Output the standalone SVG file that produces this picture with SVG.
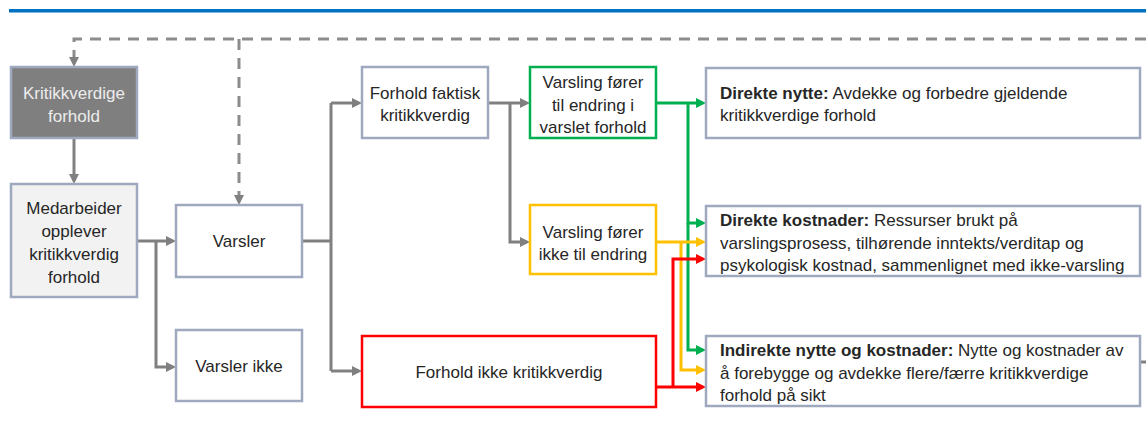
<svg xmlns="http://www.w3.org/2000/svg" width="1146" height="437" viewBox="0 0 1146 437">
  <style>
    text { font-family: "Liberation Sans", Arial, sans-serif; font-size: 17px; fill: #262626; }
    .c { text-anchor: middle; }
    .b { font-weight: bold; }
    .box { fill: #ffffff; stroke: #9ea8bf; stroke-width: 2.5; }
    .dark { fill: #7f7f7f; }
    .light { fill: #f2f2f2; }
    .white { fill: #ededed; }
    .ln { fill: none; stroke-width: 3; stroke-linejoin: miter; }
    .g { stroke: #808080; }
    .gr { stroke: #00b050; }
    .ye { stroke: #ffc000; }
    .re { stroke: #ff0000; }
    .dash { fill: none; stroke: #8c8c8c; stroke-width: 3; stroke-dasharray: 11 8; }
  </style>
  <defs>
    <marker id="aG" markerUnits="userSpaceOnUse" markerWidth="10" markerHeight="10" refX="7" refY="5" orient="auto"><path d="M0,0 L10,5 L0,10 z" fill="#808080"/></marker>
    <marker id="aGr" markerUnits="userSpaceOnUse" markerWidth="10" markerHeight="10" refX="7" refY="5" orient="auto"><path d="M0,0 L10,5 L0,10 z" fill="#00b050"/></marker>
    <marker id="aY" markerUnits="userSpaceOnUse" markerWidth="10" markerHeight="10" refX="7" refY="5" orient="auto"><path d="M0,0 L10,5 L0,10 z" fill="#ffc000"/></marker>
    <marker id="aR" markerUnits="userSpaceOnUse" markerWidth="10" markerHeight="10" refX="7" refY="5" orient="auto"><path d="M0,0 L10,5 L0,10 z" fill="#ff0000"/></marker>
  </defs>

  <rect width="1146" height="437" fill="#ffffff"/>
  <!-- header rule -->
  <rect x="9" y="9" width="1137" height="3.5" fill="#0070c0"/>

  <g id="connectors">
    <!-- feedback loop (dashed) -->
    <path class="dash" d="M1146,39 H74 V64" marker-end="url(#aG)"/>
    <path class="dash" d="M239,39 V202" marker-end="url(#aG)"/>
    <path class="ln g" d="M1139,362 H1146"/>
    <!-- gray flow -->
    <path class="ln g" d="M74,138 V181" marker-end="url(#aG)"/>
    <path class="ln g" d="M137,241 H173" marker-end="url(#aG)"/>
    <path class="ln g" d="M156,241 V367 H173" marker-end="url(#aG)"/>
    <path class="ln g" d="M302,241 H331"/>
    <path class="ln g" d="M331,103 V371"/>
    <path class="ln g" d="M331,103 H359" marker-end="url(#aG)"/>
    <path class="ln g" d="M331,371 H359" marker-end="url(#aG)"/>
    <path class="ln g" d="M488,103 H527" marker-end="url(#aG)"/>
    <path class="ln g" d="M510,103 V242 H527" marker-end="url(#aG)"/>
    <!-- green -->
    <path class="ln gr" d="M656,103 H703" marker-end="url(#aGr)"/>
    <path class="ln gr" d="M688,103 V223 H703" marker-end="url(#aGr)"/>
    <path class="ln gr" d="M688,223 V350 H703" marker-end="url(#aGr)"/>
    <!-- yellow -->
    <path class="ln ye" d="M656,242 H703" marker-end="url(#aY)"/>
    <path class="ln ye" d="M681,242 V370 H703" marker-end="url(#aY)"/>
    <!-- red -->
    <path class="ln re" d="M656,387 H703" marker-end="url(#aR)"/>
    <path class="ln re" d="M673,387 V259 H703" marker-end="url(#aR)"/>
  </g>

  <g id="kritikkverdige-forhold">
    <rect class="box dark" x="11" y="67" width="126" height="71"/>
    <text class="c white" x="74" y="99">Kritikkverdige</text>
    <text class="c white" x="74" y="122">forhold</text>
  </g>

  <g id="medarbeider">
    <rect class="box light" x="11" y="184" width="126" height="113"/>
    <text class="c" x="74" y="214">Medarbeider</text>
    <text class="c" x="74" y="237">opplever</text>
    <text class="c" x="74" y="260">kritikkverdig</text>
    <text class="c" x="74" y="283">forhold</text>
  </g>

  <g id="varsler">
    <rect class="box" x="176" y="205" width="126" height="72"/>
    <text class="c" x="239" y="247">Varsler</text>
  </g>

  <g id="varsler-ikke">
    <rect class="box" x="176" y="330" width="126" height="71"/>
    <text class="c" x="239" y="372">Varsler ikke</text>
  </g>

  <g id="forhold-faktisk">
    <rect class="box" x="362" y="67" width="126" height="71"/>
    <text class="c" x="425" y="99">Forhold faktisk</text>
    <text class="c" x="425" y="121">kritikkverdig</text>
  </g>

  <g id="fører-til-endring">
    <rect class="box" style="stroke:#00b050" x="530" y="67" width="126" height="71"/>
    <text class="c" x="593" y="88">Varsling fører</text>
    <text class="c" x="593" y="111">til endring i</text>
    <text class="c" x="593" y="133">varslet forhold</text>
  </g>

  <g id="ikke-endring">
    <rect class="box" style="stroke:#ffc000" x="530" y="205" width="126" height="69"/>
    <text class="c" x="593" y="238">Varsling fører</text>
    <text class="c" x="593" y="260">ikke til endring</text>
  </g>

  <g id="ikke-kritikkverdig">
    <rect class="box" style="stroke:#ff0000" x="362" y="336" width="294" height="71"/>
    <text class="c" x="509" y="378">Forhold ikke kritikkverdig</text>
  </g>

  <g id="direkte-nytte">
    <rect class="box" x="706" y="68" width="434" height="70"/>
    <text x="720" y="99"><tspan class="b">Direkte nytte:</tspan> Avdekke og forbedre gjeldende</text>
    <text x="720" y="121">kritikkverdige forhold</text>
  </g>

  <g id="direkte-kostnader">
    <rect class="box" x="706" y="206" width="434" height="70"/>
    <text x="720" y="226"><tspan class="b">Direkte kostnader:</tspan> Ressurser brukt på</text>
    <text x="720" y="249">varslingsprosess, tilhørende inntekts/verditap og</text>
    <text x="720" y="271">psykologisk kostnad, sammenlignet med ikke-varsling</text>
  </g>

  <g id="indirekte">
    <rect class="box" x="706" y="336" width="434" height="70"/>
    <text x="720" y="356"><tspan class="b">Indirekte nytte og kostnader:</tspan> Nytte og kostnader av</text>
    <text x="720" y="379">å forebygge og avdekke flere/færre kritikkverdige</text>
    <text x="720" y="401">forhold på sikt</text>
  </g>
</svg>
